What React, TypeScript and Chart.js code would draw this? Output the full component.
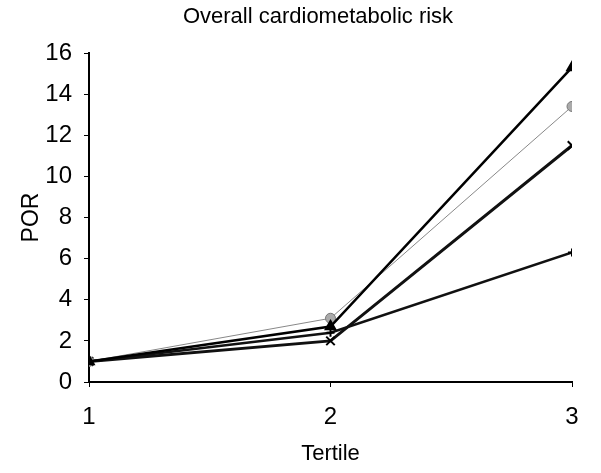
import React, { useEffect, useRef } from "react";
import { Chart, registerables } from "chart.js";

Chart.register(...registerables);

const tertiles = [1, 2, 3];
const triangleSeries = [1.0, 2.7, 15.3];
const graySeries = [1.0, 3.1, 13.4];
const crossSeries = [1.0, 2.0, 11.5];
const plusSeries = [1.0, 2.4, 6.3];
const yTicks = [0, 2, 4, 6, 8, 10, 12, 14, 16];
const chartTitle = "Overall cardiometabolic risk";

const FONT = "'Liberation Sans', Arial, sans-serif";

const titlePlugin = {
  id: "customTitle",
  afterDraw(chart: any) {
    const ctx = chart.ctx;
    ctx.save();
    ctx.fillStyle = "#000";
    ctx.font = `22px ${FONT}`;
    ctx.textAlign = "center";
    ctx.textBaseline = "middle";
    ctx.fillText(chartTitle, 318, 17);
    ctx.restore();
  },
};

export default function App() {
  const ref = useRef<HTMLCanvasElement>(null);
  useEffect(() => {
    if (!ref.current) return;
    const mk = (vals: number[]) => tertiles.map((x, i) => ({ x, y: vals[i] }));
    const chart = new Chart(ref.current, {
      type: "line",
      data: {
        datasets: [
          { label: "A", data: mk(triangleSeries), borderColor: "#000", backgroundColor: "#000", borderWidth: 2.5, pointStyle: "triangle", pointRadius: 5, pointBorderColor: "#000" },
          { label: "B", data: mk(graySeries), borderColor: "#888", backgroundColor: "#aaa", borderWidth: 1, pointStyle: "circle", pointRadius: 5, pointBorderColor: "#777" },
          { label: "C", data: mk(crossSeries), borderColor: "#111", backgroundColor: "#111", borderWidth: 3, pointStyle: "crossRot", pointRadius: 6, pointBorderWidth: 2, pointBorderColor: "#000" },
          { label: "D", data: mk(plusSeries), borderColor: "#111", backgroundColor: "#111", borderWidth: 2.5, pointStyle: "cross", pointRadius: 4, pointBorderWidth: 2, pointBorderColor: "#000" },
        ],
      },
      plugins: [titlePlugin],
      options: {
        animation: false,
        responsive: false,
        layout: { padding: { left: 0, right: 29, top: 53, bottom: 0 } },
        plugins: {
          legend: { display: false },
          tooltip: { enabled: false },
          title: { display: false },
        },
        scales: {
          x: {
            type: "linear",
            min: 1,
            max: 3,
            afterBuildTicks: (s: any) => { s.ticks = tertiles.map((v) => ({ value: v })); },
            afterFit: (s: any) => { s.height = 91; },
            border: { display: true, color: "#000", width: 2 },
            grid: { display: true, drawOnChartArea: false, tickLength: 5, color: "#000", lineWidth: 1 },
            ticks: { color: "#000", font: { family: FONT, size: 24 }, padding: 16 },
            title: { display: true, text: "Tertile", color: "#000", font: { family: FONT, size: 22 }, padding: { top: 0, bottom: 6 } },
          },
          y: {
            type: "linear",
            min: 0,
            max: 16,
            afterBuildTicks: (s: any) => { s.ticks = yTicks.map((v) => ({ value: v })); },
            afterFit: (s: any) => { s.width = 89; },
            border: { display: true, color: "#000", width: 2 },
            grid: { display: true, drawOnChartArea: false, tickLength: 5, color: "#000", lineWidth: 1 },
            ticks: { color: "#000", font: { family: FONT, size: 24 }, padding: 12 },
            title: { display: true, text: "POR", color: "#000", font: { family: FONT, size: 23 }, padding: { top: 18, bottom: 0 } },
          },
        },
      },
    });
    return () => chart.destroy();
  }, []);
  return (
    <div style={{ position: "fixed", left: 0, top: 0, width: 601, height: 473, background: "#fff" }}>
      <canvas ref={ref} width={601} height={473} />
    </div>
  );
}
